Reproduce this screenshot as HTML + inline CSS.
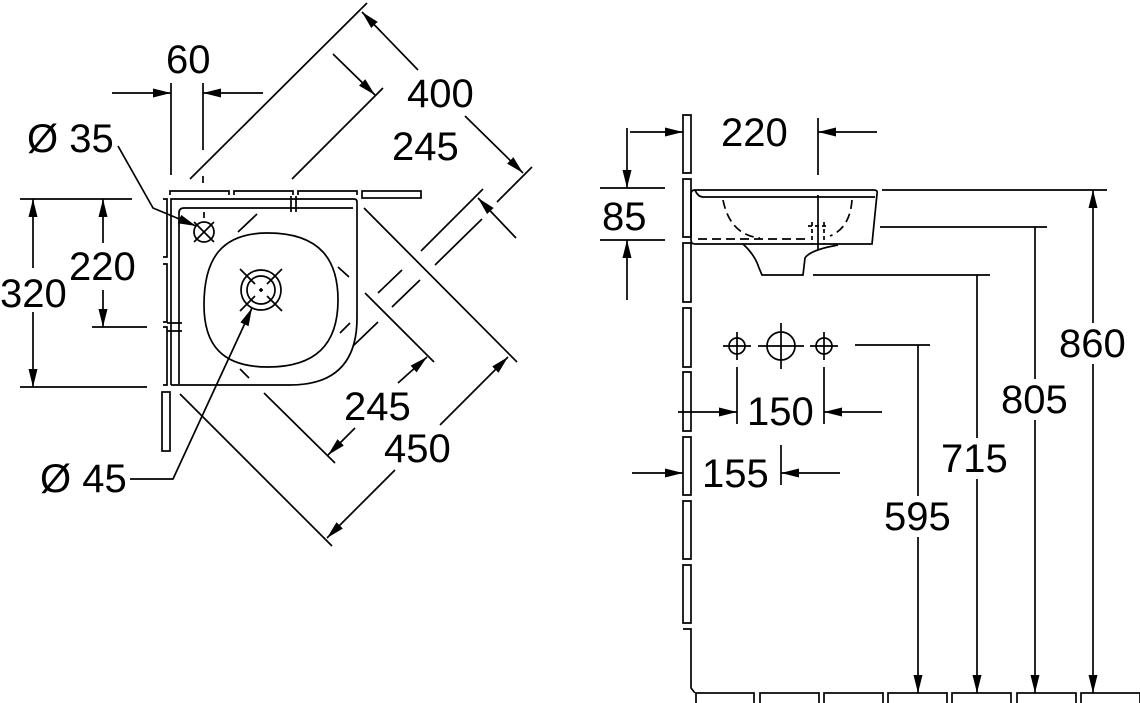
<!DOCTYPE html>
<html><head><meta charset="utf-8"><style>
html,body{margin:0;padding:0;background:#fff;}
svg{display:block;}
text{font-family:"Liberation Sans",sans-serif;font-size:40px;fill:#000;}
</style></head><body>
<svg width="1140" height="703" viewBox="0 0 1140 703" xmlns="http://www.w3.org/2000/svg">
<defs>
<marker id="a" markerUnits="userSpaceOnUse" markerWidth="20" markerHeight="10" refX="18" refY="4.5" orient="auto-start-reverse"><path d="M0,0 L18,4.5 L0,9 z" fill="#000"/></marker>
</defs>
<g stroke="#000" stroke-width="1.7" fill="none">
<path d="M170 195 V191 H229 V195 M234 195 V191 H293 V195 M298 195 V191 H357 V195"/>
<rect x="362" y="191" width="59" height="7"/>
<path d="M163 199 H167 V257 H163 M163 264 H167 V322 H163 M163 327 H167 V385 H163"/>
<rect x="162" y="392" width="8" height="59"/>
<path d="M171 385 V199 H354 Q357 199 357 202 V318 Q357 385 290 385 H171"/>
<path d="M179 384 V213 Q179 208 184 208 H353"/>
<path d="M291 196 V212 M296 196 V212 M167 323 H182 M167 331 H182"/>
<path d="M265 233 C322 232 338 262 338 300 C338 345 315 367 268 367 C222 367 204 345 204 305 C204 258 222 234 265 233 Z"/>
<circle cx="261" cy="290" r="20"/><circle cx="261" cy="290" r="14"/>
<path d="M240 269 L255 284 M267 296 L282 311 M282 269 L267 284 M255 296 L240 311 M261 288 V292 M259 290 H263"/>
<circle cx="204" cy="232" r="10"/>
<path d="M194 222 L214 242 M214 222 L194 242 M204 212 V218"/>
<path d="M238 232 L257 214 M338 267 L349 277 M240 369 L249 378 M340 333 L350 323 M378 293 L402 270 M421 251 L483 189 M353 346 L378 322 M392 307 L420 280 M435 265 L482 219 M203 176 V183"/>
<path d="M171 83 V175 M203 83 V150"/>
<line x1="112" y1="93" x2="171" y2="93" marker-end="url(#a)"/>
<line x1="263" y1="93" x2="203" y2="93" marker-end="url(#a)"/>
<path d="M190 179 L367 3 M532 167 L497 202"/>
<line x1="418" y1="70" x2="362" y2="12" marker-end="url(#a)"/>
<line x1="465" y1="116" x2="523" y2="173" marker-end="url(#a)"/>
<path d="M292 179 L383 88"/>
<line x1="333" y1="54" x2="375" y2="95" marker-end="url(#a)"/>
<line x1="516" y1="238" x2="478" y2="198" marker-end="url(#a)"/>
<path d="M364 208 L517 362 M180 394 L332 546"/>
<line x1="440" y1="425" x2="508" y2="357" marker-end="url(#a)"/>
<line x1="395" y1="470" x2="327" y2="538" marker-end="url(#a)"/>
<path d="M365 293 L434 362 M264 393 L335 463"/>
<line x1="398" y1="383" x2="427" y2="357" marker-end="url(#a)"/>
<line x1="355" y1="428" x2="328" y2="455" marker-end="url(#a)"/>
<path d="M20 199 H132 M20 387 H147 M92 327 H147"/>
<line x1="33" y1="268" x2="33" y2="199" marker-end="url(#a)"/>
<line x1="33" y1="312" x2="33" y2="387" marker-end="url(#a)"/>
<line x1="103" y1="243" x2="103" y2="199" marker-end="url(#a)"/>
<line x1="103" y1="290" x2="103" y2="327" marker-end="url(#a)"/>
<path d="M118 146 L153 208 L196 226" marker-end="url(#a)"/>
<path d="M130 479 H173 L252 308" marker-end="url(#a)"/>

<path d="M683 115 H691 V173 H683 Z"/>
<path d="M683 179 H691 V237 H683 Z M683 243 H691 V302 H683 Z M683 308 H691 V367 H683 Z M683 372 H691 V431 H683 Z M683 437 H691 V495 H683 Z M683 501 H691 V559 H683 Z M683 565 H691 V623 H683 Z M683 629 H691 V688 L695 693"/>
<rect x="696" y="693" width="58" height="12"/><rect x="760" y="693" width="59" height="12"/><rect x="824" y="693" width="59" height="12"/><rect x="888" y="693" width="59" height="12"/><rect x="952" y="693" width="59" height="12"/><rect x="1017" y="693" width="59" height="12"/><rect x="1081" y="693" width="59" height="12"/>
<path d="M695 190 H874 Q878 190 877 194 L872 244 H695 Q691 244 691 240 V194 Q691 190 695 190"/>
<path d="M695 190 Q698 197 703 197 H875"/>
<path d="M743 244 Q755 255 759 268 L762 275 H803 L805 258 Q810 250 838 245"/>
<path d="M723 200 Q730 235 760 238 M852 200 Q850 228 830 236 M698 239 H810" stroke-dasharray="9 5"/>
<path d="M818 118 V175 M818 195 V250" />
<path d="M808 226 H828 M812 222 L812 244 M824 222 L824 244" stroke-dasharray="4 3"/>
<line x1="630" y1="132" x2="683" y2="132" marker-end="url(#a)"/>
<line x1="877" y1="132" x2="818" y2="132" marker-end="url(#a)"/>
<path d="M600 188 H665 M600 240 H665"/>
<line x1="627" y1="128" x2="627" y2="188" marker-end="url(#a)"/>
<line x1="627" y1="300" x2="627" y2="240" marker-end="url(#a)"/>
<path d="M882 190 H1107 M880 227 H1047 M813 275 H990 M855 345 H930"/>
<line x1="1093" y1="190" x2="1093" y2="693" marker-start="url(#a)" marker-end="url(#a)"/>
<line x1="1035" y1="227" x2="1035" y2="693" marker-end="url(#a)"/>
<line x1="977" y1="275" x2="977" y2="693" marker-end="url(#a)"/>
<line x1="918" y1="345" x2="918" y2="693" marker-end="url(#a)"/>
<circle cx="737" cy="346" r="8"/><circle cx="781" cy="346" r="14"/><circle cx="824" cy="346" r="8"/>
<path d="M723 346 H751 M737 332 V360 M758 346 H804 M781 323 V369 M810 346 H838 M824 332 V360"/>
<path d="M737 367 V424 M824 367 V424 M781 445 V485"/>
<line x1="678" y1="412" x2="737" y2="412" marker-end="url(#a)"/>
<line x1="882" y1="412" x2="824" y2="412" marker-end="url(#a)"/>
<line x1="632" y1="473" x2="683" y2="473" marker-end="url(#a)"/>
<line x1="840" y1="473" x2="781" y2="473" marker-end="url(#a)"/>
</g>
<g fill="#fff">
<rect x="1057" y="323" width="73" height="41"/>
<rect x="999" y="379" width="72" height="41"/>
<rect x="939" y="438" width="74" height="41"/>
<rect x="882" y="496" width="73" height="41"/>
</g>
<g>
<text x="166" y="73">60</text>
<text x="407" y="107">400</text>
<text x="392" y="160">245</text>
<text x="344" y="420">245</text>
<text x="384" y="462">450</text>
<text x="27" y="152">Ø 35</text>
<text x="40" y="492">Ø 45</text>
<text x="69" y="280">220</text>
<text x="0" y="307">320</text>
<text x="721" y="146">220</text>
<text x="602" y="230">85</text>
<text x="747" y="425">150</text>
<text x="702" y="487">155</text>
<text x="1059" y="357">860</text>
<text x="1001" y="413">805</text>
<text x="941" y="472">715</text>
<text x="884" y="530">595</text>
</g>
</svg>
</body></html>
